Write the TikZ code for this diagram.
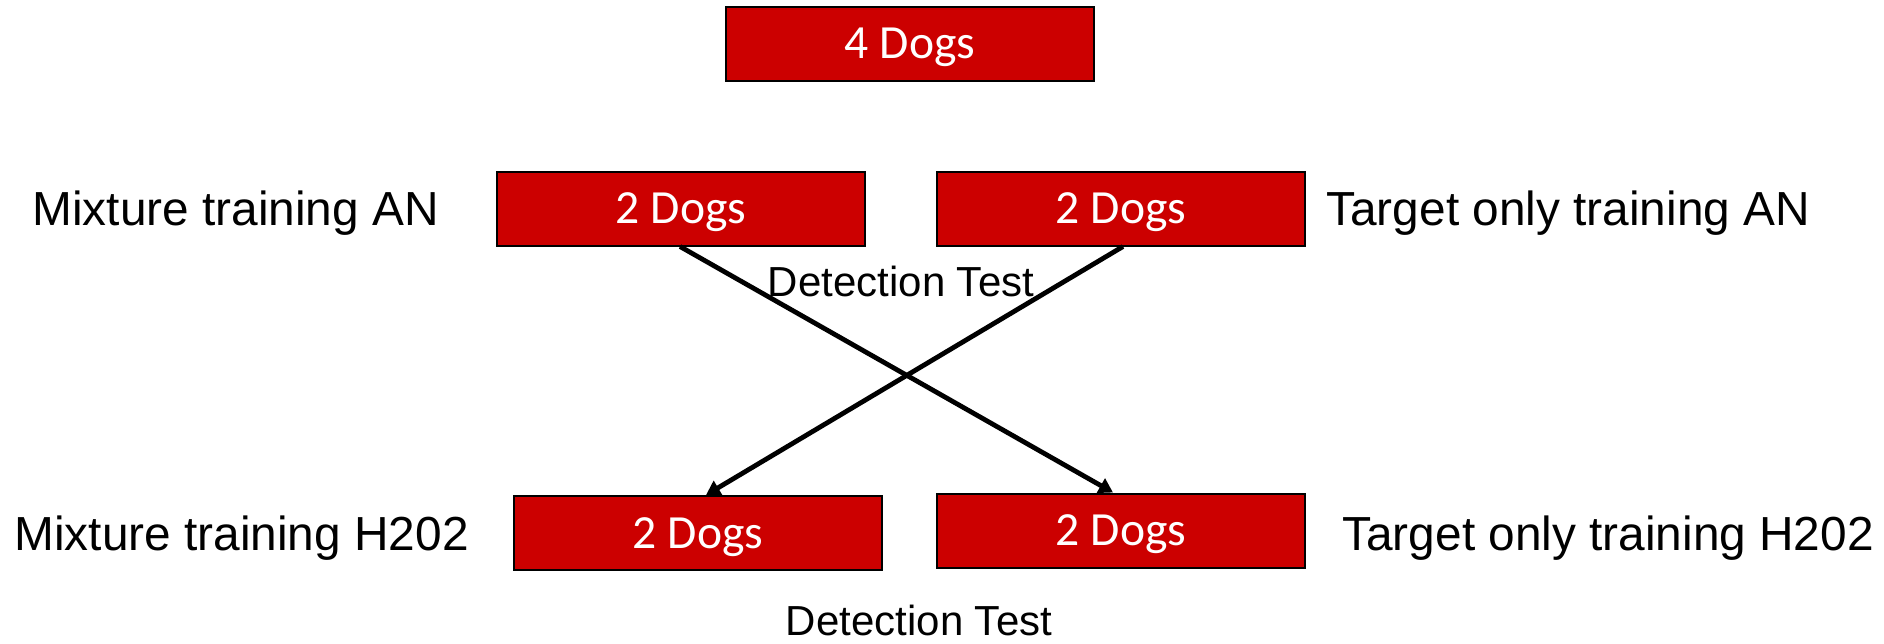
\documentclass[tikz,border=0pt]{standalone}
\usepackage{fontspec}
\setmainfont{Liberation Sans}
\newfontfamily\boxfont{Carlito}
\usetikzlibrary{arrows.meta}
\definecolor{boxred}{RGB}{204,0,0}
\begin{document}
\begin{tikzpicture}[x=0.5pt,y=-0.5pt,
  dogbox/.style={draw=black,line width=1pt,fill=boxred,text=white,
    minimum width=184pt,minimum height=37pt,inner sep=0pt,text depth=0pt,
    font=\boxfont\fontsize{23.8}{28}\selectfont},
  lbl/.style={inner sep=0pt,text depth=0pt,font=\fontsize{23.9}{28}\selectfont},
  dlbl/.style={inner sep=0pt,text depth=0pt,font=\fontsize{21}{25}\selectfont},
  conn/.style={line width=2.4pt,-{Triangle[length=7pt,width=8pt]}}]
\useasboundingbox (0,0) rectangle (1884,643);
\node[dogbox] (top) at (910,43.5) {4 Dogs};
\node[dogbox] (ml) at (681,208.5) {2 Dogs};
\node[dogbox] (mr) at (1121,208.5) {2 Dogs};
\node[dogbox] (bl) at (698,533) {2 Dogs};
\node[dogbox] (br) at (1121,530.5) {2 Dogs};
\node[lbl,anchor=west] (l1) at (32,208) {Mixture training AN};
\node[lbl,anchor=west] (l2) at (1326,208) {Target only training AN};
\node[lbl,anchor=west] (l3) at (14,533) {Mixture training H202};
\node[lbl,anchor=west] (l4) at (1342,533) {Target only training H202};
\node[dlbl] (d1) at (901,281) {Detection Test};
\node[dlbl] (d2) at (919,620) {Detection Test};
\coordinate (s1) at ([xshift=-0.5pt]ml.south);
\coordinate (e1) at ([xshift=-4pt]br.north);
\coordinate (s2) at ([xshift=1pt]mr.south);
\coordinate (e2) at ([xshift=4pt]bl.north);
\draw[conn] (s1) -- (e1);
\draw[conn] (s2) -- (e2);
\end{tikzpicture}
\end{document}
